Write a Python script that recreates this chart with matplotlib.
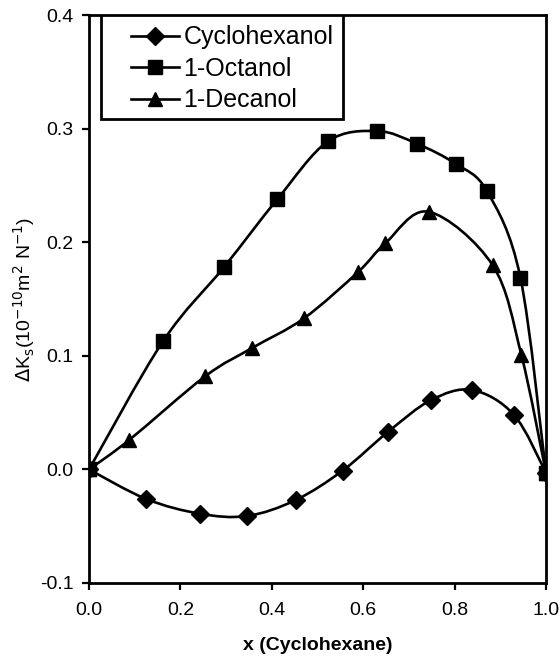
import numpy as np
import matplotlib
matplotlib.use("Agg")
import matplotlib.pyplot as plt
from matplotlib.path import Path
from matplotlib.patches import PathPatch, Rectangle
from matplotlib.lines import Line2D

plt.rcParams['font.family'] = ['Liberation Sans', 'DejaVu Sans']

# data
x_cyclohexanol = [0.0, 0.125, 0.243, 0.346, 0.452, 0.555, 0.654, 0.748, 0.838, 0.930, 1.0]
y_cyclohexanol = [0.0, -0.026, -0.039, -0.041, -0.027, -0.001, 0.033, 0.061, 0.070, 0.048, -0.003]

x_octanol = [0.0, 0.162, 0.295, 0.412, 0.523, 0.631, 0.717, 0.803, 0.871, 0.944, 1.0]
y_octanol = [0.0, 0.113, 0.178, 0.238, 0.289, 0.298, 0.287, 0.269, 0.245, 0.169, -0.003]

x_decanol = [0.0, 0.088, 0.254, 0.357, 0.470, 0.589, 0.648, 0.743, 0.883, 0.946, 1.0]
y_decanol = [0.0, 0.026, 0.082, 0.107, 0.133, 0.174, 0.199, 0.227, 0.180, 0.101, -0.003]

series = [
    ("Cyclohexanol", x_cyclohexanol, y_cyclohexanol, "D", 9),
    ("1-Octanol", x_octanol, y_octanol, "s", 10),
    ("1-Decanol", x_decanol, y_decanol, "^", 10),
]


def smooth_path(xs, ys):
    """Excel-style smoothed line as cubic bezier segments"""
    p = np.column_stack([xs, ys])
    n = len(p)
    verts = [p[0]]
    codes = [Path.MOVETO]
    for i in range(n - 1):
        p0 = p[i - 1] if i > 0 else p[i]
        p3 = p[i + 2] if i + 2 < n else p[i + 1]
        c1 = p[i] + (p[i + 1] - p0) / 6.0
        c2 = p[i + 1] - (p3 - p[i]) / 6.0
        verts += [c1, c2, p[i + 1]]
        codes += [Path.CURVE4] * 3
    return Path(verts, codes)


fig = plt.figure(figsize=(5.6, 6.64), dpi=100)
ax = fig.add_axes([0.159, 0.122, 0.816, 0.855])

handles = []
for name, xs, ys, mk, ms in series:
    ax.add_patch(PathPatch(smooth_path(xs, ys), facecolor='none',
                           edgecolor='black', lw=1.9, zorder=2))
    ax.plot(xs, ys, linestyle='none', marker=mk, ms=ms, color='black', zorder=3)
    handles.append(Line2D([], [], color='black', lw=1.9, marker=mk, ms=ms))

ax.set_xlim(0, 1.0)
ax.set_ylim(-0.1, 0.4)
ax.set_xticks(np.arange(0, 1.01, 0.2))
ax.set_yticks(np.arange(-0.1, 0.41, 0.1))
ax.set_xticklabels(['0.0', '0.2', '0.4', '0.6', '0.8', '1.0'])
ax.set_yticklabels(['-0.1', '0.0', '0.1', '0.2', '0.3', '0.4'])
ax.tick_params(direction='out', length=5, width=1.6, labelsize=14)
ax.tick_params(axis='x', pad=9)
ax.tick_params(axis='y', pad=6)
for sp in ax.spines.values():
    sp.set_linewidth(2)

ax.set_xlabel('x (Cyclohexane)', fontsize=14, fontweight='bold', labelpad=13)
ax.set_ylabel(r'$\Delta$K$_\mathrm{s}$(10$^{-10}$m$^2$ N$^{-1}$)', fontsize=14, labelpad=2)

# legend without its own frame; the box is drawn wider on the left like the original
leg = ax.legend(handles, [s[0] for s in series], loc='upper left',
                bbox_to_anchor=(0.07, 1.0), borderaxespad=0, fontsize=18,
                numpoints=1, handlelength=1.9, handletextpad=0.2,
                labelspacing=0.3, frameon=False, borderpad=0.4)
ax.add_patch(Rectangle((0.026, 0.817), 0.53, 0.183, transform=ax.transAxes,
                       facecolor='white', edgecolor='black', lw=2, zorder=4))
leg.set_zorder(5)

fig.savefig('out.png', dpi=100)
